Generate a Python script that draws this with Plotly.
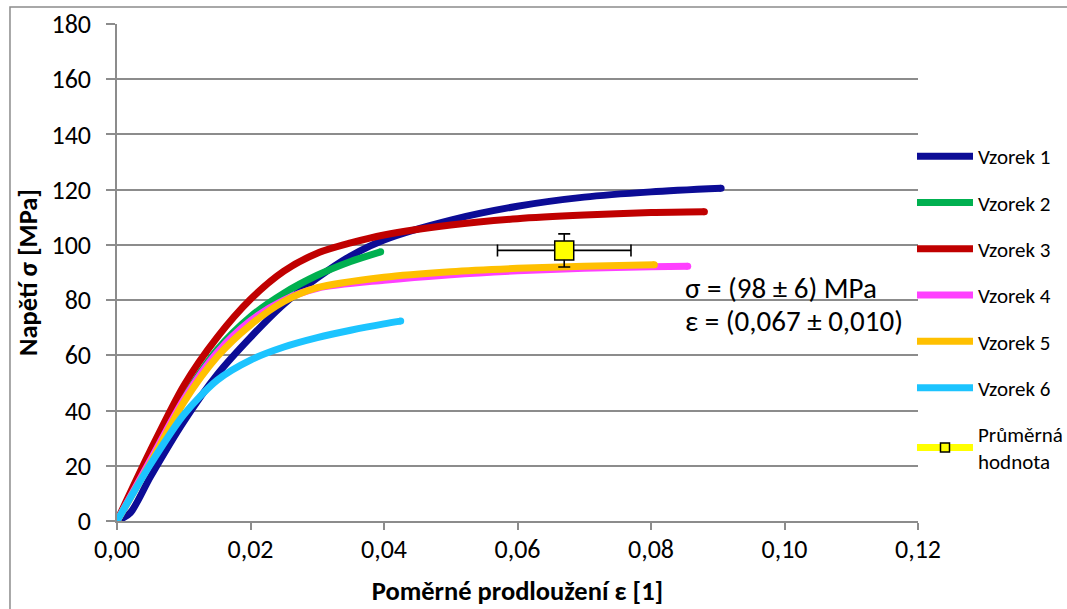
import plotly.graph_objects as go

# ---------------- data ----------------
names = ["Vzorek 1", "Vzorek 2", "Vzorek 3", "Vzorek 4", "Vzorek 5", "Vzorek 6"]
colors = ["#0c0c96", "#00B050", "#C00000", "#FF40FF", "#FFC000", "#1cc4ff"]

eps1 = [0.0, 0.002, 0.005, 0.01, 0.015, 0.02, 0.025, 0.03, 0.035, 0.04, 0.05, 0.06, 0.07, 0.08, 0.0905]
sig1 = [0.0, 3.0, 16.0, 36.0, 53.0, 66.5, 78.5, 88.0, 96.0, 101.8, 109.0, 114.0, 117.3, 119.2, 120.5]

eps2 = [0.0, 0.005, 0.01, 0.015, 0.02, 0.025, 0.03, 0.035, 0.0395]
sig2 = [0.0, 23.0, 44.5, 62.0, 74.0, 82.5, 89.0, 94.0, 97.5]

eps3 = [0.0, 0.005, 0.01, 0.015, 0.02, 0.025, 0.03, 0.035, 0.04, 0.05, 0.06, 0.07, 0.08, 0.088]
sig3 = [0.0, 25.5, 49.0, 66.5, 80.3, 90.5, 97.0, 100.7, 103.6, 107.2, 109.5, 110.8, 111.7, 112.0]

eps4 = [0.0, 0.005, 0.01, 0.015, 0.02, 0.025, 0.03, 0.04, 0.05, 0.06, 0.07, 0.08, 0.0855]
sig4 = [0.0, 22.0, 44.0, 61.0, 72.5, 80.0, 84.3, 87.2, 89.2, 90.6, 91.5, 92.1, 92.3]

eps5 = [0.0, 0.005, 0.01, 0.015, 0.02, 0.025, 0.03, 0.04, 0.05, 0.06, 0.07, 0.0805]
sig5 = [0.0, 21.0, 43.0, 59.5, 71.0, 79.5, 84.5, 88.3, 90.3, 91.5, 92.3, 92.8]

eps6 = [0.0, 0.005, 0.01, 0.015, 0.02, 0.025, 0.03, 0.035, 0.04, 0.0425]
sig6 = [0.0, 20.5, 38.5, 51.0, 58.3, 63.0, 66.4, 69.1, 71.4, 72.4]

mean_eps = [0.067]
mean_sig = [98.0]
err_eps = [0.010]
err_sig = [6.0]

x_ticks = [0.0, 0.02, 0.04, 0.06, 0.08, 0.10, 0.12]
y_ticks = [0, 20, 40, 60, 80, 100, 120, 140, 160, 180]

series_x = [eps1, eps2, eps3, eps4, eps5, eps6]
series_y = [sig1, sig2, sig3, sig4, sig5, sig6]

FONT = "Carlito, Lato, 'Open Sans', sans-serif"
LW = 7

fig = go.Figure()
for i, (xs, ys) in enumerate(zip(series_x, series_y)):
    fig.add_trace(go.Scatter(
        x=xs, y=ys, mode="lines", name=names[i],
        line=dict(color=colors[i], width=LW, shape="spline", smoothing=0.8),
        legendgroup=names[i],
    ))
    # rounded end caps
    fig.add_trace(go.Scatter(
        x=[xs[0], xs[-1]], y=[ys[0], ys[-1]], mode="markers",
        marker=dict(color=colors[i], size=LW, line=dict(width=0)),
        showlegend=False, hoverinfo="skip", legendgroup=names[i],
    ))

# mean value point (legend shown via a separate legend-only trace)
fig.add_trace(go.Scatter(
    x=mean_eps, y=mean_sig, mode="markers", showlegend=False,
    marker=dict(symbol="square", size=19, color="#FFFF00",
                line=dict(color="black", width=1.5)),
    error_x=dict(type="data", array=err_eps, color="black", thickness=1.6, width=6),
    error_y=dict(type="data", array=err_sig, color="black", thickness=1.6, width=6),
))
fig.add_trace(go.Scatter(
    x=[None], y=[None], mode="lines+markers", name="Průměrná<br>hodnota",
    line=dict(color="#FFFF00", width=LW),
    marker=dict(symbol="square", size=9, color="#FFFF00",
                line=dict(color="black", width=1.5)),
    legendgroup="mean",
))

fig.add_annotation(x=0.0848, y=84.4, xref="x", yref="y", text="σ = (98 ± 6) MPa",
                   showarrow=False, xanchor="left", yanchor="middle",
                   font=dict(family=FONT, size=29, color="black"))
fig.add_annotation(x=0.0848, y=72.4, xref="x", yref="y", text="ε = (0,067 ± 0,010)",
                   showarrow=False, xanchor="left", yanchor="middle",
                   font=dict(family=FONT, size=29, color="black"))

# outer chart border (left and top visible)
fig.add_shape(type="rect", xref="paper", yref="paper",
              x0=-0.1336, x1=1.3, y0=-0.3, y1=1.0342,
              line=dict(color="#8c8c8c", width=1.5), fillcolor="rgba(0,0,0,0)", layer="below")

fig.update_layout(
    width=1067, height=609,
    margin=dict(l=117, r=149, t=24, b=88, autoexpand=False),
    paper_bgcolor="white", plot_bgcolor="white",
    separators=", ",
    font=dict(family=FONT, size=24, color="black"),
    showlegend=True,
    legend=dict(x=0.9925, y=0.7746, xanchor="left", yanchor="top",
                font=dict(family=FONT, size=21, color="black"),
                tracegroupgap=16, bgcolor="rgba(0,0,0,0)", itemwidth=56),
    xaxis=dict(range=[0, 0.12], tickvals=x_ticks, tickformat=".2f",
               automargin=False,
               showgrid=False, zeroline=False,
               showline=True, linecolor="#8c8c8c", linewidth=1.5,
               ticks="outside", ticklen=7, tickcolor="#8c8c8c", tickwidth=1.5,
               ticklabelstandoff=-3,
               tickfont=dict(family=FONT, size=26),
               title=dict(text="<b>Poměrné prodloužení ε [1]</b>",
                          font=dict(family=FONT, size=26.5), standoff=17)),
    yaxis=dict(range=[0, 180], tickvals=y_ticks,
               automargin=False,
               showgrid=True, gridcolor="#8c8c8c", gridwidth=1.5, zeroline=False,
               showline=True, linecolor="#8c8c8c", linewidth=1.5,
               ticks="outside", ticklen=9, tickcolor="#8c8c8c", tickwidth=1.5,
               ticklabelstandoff=10,
               tickfont=dict(family=FONT, size=26),
               title=dict(text="<b>Napětí σ [MPa]</b>",
                          font=dict(family=FONT, size=26.5), standoff=6)),
)

fig.write_html("out.html")
